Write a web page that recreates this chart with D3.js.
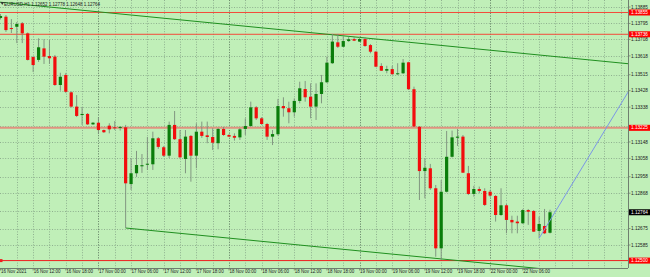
<!DOCTYPE html>
<html><head><meta charset="utf-8">
<script src="https://cdn.jsdelivr.net/npm/d3@7"></script>
<style>html,body{margin:0;padding:0;background:#c0efb8;overflow:hidden}svg{display:block}</style>
</head><body>
<svg id="c" width="650" height="277"></svg>
<script>
// ---- data ----
const symbol = "EURUSD,H1";
const sessions = [["16 Nov",6,23],["17 Nov",0,23],["18 Nov",0,23],["19 Nov",0,23],["22 Nov",0,11]];
const times = [];
sessions.forEach(([d,h0,h1]) => { for (let h=h0; h<=h1; h++) times.push(d+" "+String(h).padStart(2,"0")+":00"); });

const open = [1.13825,1.13832,1.13770,1.13777,1.13796,1.13741,1.13612,1.13596,1.13659,1.13617,
1.13614,1.13459,1.13514,1.13419,1.13341,1.13295,1.13301,1.13244,1.13253,1.13213,
1.13237,1.13228,1.13227,1.13228,1.12918,1.12977,1.13015,1.13024,1.13026,1.13168,
1.13119,1.13073,1.13241,1.13163,1.13055,1.13181,1.13073,1.13204,1.13184,1.13175,
1.13141,1.13219,1.13186,1.13181,1.13173,1.13219,1.13235,1.13337,1.13277,1.13246,
1.13177,1.13190,1.13344,1.13332,1.13310,1.13372,1.13437,1.13395,1.13341,1.13410,
1.13474,1.13578,1.13692,1.13668,1.13699,1.13710,1.13696,1.13710,1.13677,1.13641,
1.13563,1.13537,1.13546,1.13519,1.13523,1.13583,1.13436,1.13231,1.12989,1.13004,
1.12895,1.12567,1.12876,1.13067,1.13171,1.13177,1.12977,1.12864,1.12891,1.12880,
1.12876,1.12853,1.12749,1.12802,1.12722,1.12713,1.12704,1.12776,1.12771,1.12662,
1.12689,1.12652];
const high = [1.13847,1.13841,1.13819,1.13803,1.13803,1.13746,1.13617,1.13714,1.13709,1.13705,
1.13623,1.13526,1.13525,1.13424,1.13404,1.13339,1.13306,1.13257,1.13283,1.13216,
1.13250,1.13262,1.13235,1.13241,1.13059,1.13099,1.13082,1.13175,1.13204,1.13175,
1.13126,1.13259,1.13317,1.13213,1.13213,1.13186,1.13250,1.13259,1.13259,1.13223,
1.13224,1.13230,1.13191,1.13195,1.13224,1.13277,1.13368,1.13344,1.13284,1.13252,
1.13213,1.13383,1.13392,1.13368,1.13386,1.13477,1.13481,1.13468,1.13468,1.13514,
1.13614,1.13738,1.13738,1.13723,1.13723,1.13721,1.13723,1.13721,1.13683,1.13645,
1.13578,1.13564,1.13563,1.13578,1.13601,1.13586,1.13450,1.13235,1.13059,1.13028,
1.12913,1.12940,1.13208,1.13210,1.13219,1.13186,1.13017,1.12908,1.12904,1.12895,
1.12886,1.12858,1.12895,1.12809,1.12745,1.12745,1.12782,1.12782,1.12776,1.12740,
1.12782,1.12778];
const low = [1.13817,1.13749,1.13743,1.13688,1.13688,1.13593,1.13530,1.13585,1.13574,1.13574,
1.13454,1.13428,1.13415,1.13336,1.13284,1.13241,1.13241,1.13241,1.13191,1.13197,
1.13195,1.13213,1.13210,1.12678,1.12886,1.12957,1.12979,1.12995,1.12995,1.13110,
1.13066,1.13060,1.13159,1.13060,1.12977,1.12931,1.13004,1.13170,1.13141,1.13104,
1.13108,1.13181,1.13175,1.13155,1.13159,1.13186,1.13230,1.13268,1.13241,1.13159,
1.13131,1.13181,1.13286,1.13250,1.13286,1.13359,1.13368,1.13277,1.13268,1.13359,
1.13470,1.13574,1.13661,1.13667,1.13694,1.13699,1.13694,1.13667,1.13632,1.13557,
1.13536,1.13523,1.13514,1.13514,1.13519,1.13432,1.13230,1.12831,1.12840,1.12886,
1.12521,1.12503,1.12872,1.13063,1.13126,1.12979,1.12858,1.12849,1.12869,1.12798,
1.12847,1.12713,1.12744,1.12649,1.12649,1.12649,1.12700,1.12695,1.12656,1.12622,
1.12645,1.12648];
const close = [1.13836,1.13759,1.13768,1.13792,1.13741,1.13596,1.13568,1.13665,1.13614,1.13605,
1.13459,1.13504,1.13422,1.13341,1.13290,1.13301,1.13244,1.13253,1.13213,1.13201,
1.13217,1.13227,1.13230,1.12922,1.12977,1.13022,1.13021,1.13029,1.13168,1.13121,
1.13073,1.13241,1.13163,1.13064,1.13177,1.13073,1.13204,1.13181,1.13175,1.13144,
1.13219,1.13186,1.13177,1.13171,1.13217,1.13235,1.13337,1.13277,1.13246,1.13177,
1.13191,1.13344,1.13332,1.13310,1.13372,1.13441,1.13392,1.13341,1.13410,1.13474,
1.13581,1.13696,1.13668,1.13699,1.13709,1.13701,1.13710,1.13672,1.13641,1.13559,
1.13537,1.13546,1.13518,1.13523,1.13581,1.13436,1.13232,1.12989,1.13007,1.12895,
1.12567,1.12876,1.13067,1.13173,1.13177,1.12980,1.12864,1.12891,1.12880,1.12804,
1.12855,1.12749,1.12802,1.12722,1.12709,1.12704,1.12776,1.12767,1.12658,1.12700,
1.12649,1.12764];

const priceTicks = [1.13885,1.13795,1.13708,1.13618,1.13515,1.13428,1.13338,1.13235,1.13148,1.13058,1.12958,1.12868,1.12771,1.12675,1.12585];
const timeTicks = ["16 Nov 06:00","16 Nov 12:00","16 Nov 18:00","17 Nov 00:00","17 Nov 06:00","17 Nov 12:00","17 Nov 18:00","18 Nov 00:00","18 Nov 06:00","18 Nov 12:00","18 Nov 18:00","19 Nov 00:00","19 Nov 06:00","19 Nov 12:00","19 Nov 18:00","22 Nov 00:00","22 Nov 06:00"];
const timeTickText = ["16 Nov 2021","16 Nov 12:00","16 Nov 18:00","17 Nov 00:00","17 Nov 06:00","17 Nov 12:00","17 Nov 18:00","18 Nov 00:00","18 Nov 06:00","18 Nov 12:00","18 Nov 18:00","19 Nov 00:00","19 Nov 06:00","19 Nov 12:00","19 Nov 18:00","22 Nov 00:00","22 Nov 06:00"];
const daySeparators = ["17 Nov 00:00","18 Nov 00:00","19 Nov 00:00","22 Nov 00:00"];
const levelPrices = [1.13855, 1.13736, 1.13225, 1.12500];
// trend lines: bar index anchors and prices
const trendUpper = {i1:0, p1:1.13911, i2:101, p2:1.13617};
const trendLower = {i1:23, p1:1.12678, i2:101, p2:1.12451};
const trendBlue  = {i1:99, p1:1.12622, i2:110, p2:1.13159};

// ---- layout ----
const W = 650, H = 277, plotR = 628, plotB = 268;
const svg = d3.select("#c");
const x = d3.scaleLinear().domain([0, times.length-1]).range([0.5, 550.0]);
const y = d3.scaleLinear().domain([1.12585, 1.13885]).range([245.03, 7]);
const FONT = "'Liberation Sans', Arial, sans-serif";

svg.append("rect").attr("width",W).attr("height",H).attr("fill","#c0efb8");
svg.append("defs").append("clipPath").attr("id","pc").append("rect")
  .attr("x",0).attr("y",0).attr("width",plotR).attr("height",plotB);
const plot = svg.append("g").attr("clip-path","url(#pc)");

// grid
const gridCol = "#8fb08f";
plot.selectAll(".hg").data(priceTicks).join("line")
  .attr("x1",0).attr("x2",plotR)
  .attr("y1",d=>Math.round(y(d))+0.5).attr("y2",d=>Math.round(y(d))+0.5)
  .attr("stroke",gridCol).attr("stroke-width",1).attr("stroke-dasharray","1,1.6");
const vIdx = d3.range(3, 116, 3);
plot.selectAll(".vg").data(vIdx).join("line")
  .attr("x1",d=>Math.round(x(d))+0.5).attr("x2",d=>Math.round(x(d))+0.5)
  .attr("y1",0).attr("y2",plotB)
  .attr("stroke",gridCol).attr("stroke-width",1).attr("stroke-dasharray","1,1.6");
plot.selectAll(".ds").data(daySeparators).join("line")
  .attr("x1",d=>Math.round(x(times.indexOf(d)))+0.5).attr("x2",d=>Math.round(x(times.indexOf(d)))+0.5)
  .attr("y1",0).attr("y2",plotB)
  .attr("stroke","#6d8d6d").attr("stroke-width",1).attr("stroke-dasharray","1,1.6");

// horizontal levels
const levelStyle = [{c:"#f24a3a",w:1},{c:"#f24a3a",w:1},{c:"#e0937f",w:2},{c:"#f01e1e",w:1}];
plot.selectAll(".lv").data(levelPrices).join("line")
  .attr("x1",0).attr("x2",plotR)
  .attr("y1",d=>y(d)).attr("y2",d=>y(d))
  .attr("stroke",(d,i)=>levelStyle[i].c).attr("stroke-width",(d,i)=>levelStyle[i].w);
plot.append("rect").attr("x",0).attr("y",y(levelPrices[3])-1.5).attr("width",2.5).attr("height",3).attr("fill","#f01e1e");

// trend lines (extended to the right edge)
function trend(t, color, w) {
  const slope = (t.p2 - t.p1) / (t.i2 - t.i1);
  const iEnd = x.invert(plotR + 5);
  const iStart = t.i1 === 0 ? x.invert(-5) : t.i1;
  plot.append("line")
    .attr("x1", x(iStart)).attr("y1", y(t.p1 + slope*(iStart - t.i1)))
    .attr("x2", x(iEnd)).attr("y2", y(t.p1 + slope*(iEnd - t.i1)))
    .attr("stroke", color).attr("stroke-width", w);
}
trend(trendUpper, "#1f8f1f", 1);
trend(trendLower, "#1f8f1f", 1);

// candles
const idx = d3.range(times.length);
plot.selectAll(".wk").data(idx).join("line")
  .attr("x1",i=>x(i)).attr("x2",i=>x(i))
  .attr("y1",i=>y(high[i])).attr("y2",i=>y(low[i]))
  .attr("stroke","#7b8c7b").attr("stroke-width",0.9);
plot.selectAll(".bd").data(idx).join("rect")
  .attr("x",i=>x(i)-1.6).attr("width",3.2)
  .attr("y",i=>y(Math.max(open[i],close[i])))
  .attr("height",i=>Math.max(1, Math.abs(y(open[i])-y(close[i]))))
  .attr("fill",i=> close[i] >= open[i] ? "#0a7d0a" : "#f20d0d");

trend(trendBlue, "#7b96e6", 1);

// borders
svg.append("line").attr("x1",plotR+0.5).attr("x2",plotR+0.5).attr("y1",0).attr("y2",plotB)
  .attr("stroke","#6f7f6f").attr("stroke-width",1);
svg.append("line").attr("x1",0).attr("x2",plotR).attr("y1",plotB+0.5).attr("y2",plotB+0.5)
  .attr("stroke","#6f7f6f").attr("stroke-width",1);

// price axis labels
const current = close[close.length-1];
const special = levelPrices.concat([current]);
const visTicks = priceTicks.filter(p => special.every(s => Math.abs(y(s)-y(p)) > 4.5));
const ax = svg.append("g");
ax.selectAll(".pt").data(priceTicks).join("line")
  .attr("x1",plotR).attr("x2",plotR+2.5).attr("y1",d=>y(d)).attr("y2",d=>y(d))
  .attr("stroke","#6f7f6f").attr("stroke-width",0.8);
ax.selectAll(".pl").data(visTicks).join("text")
  .attr("x",631).attr("y",d=>y(d)).attr("dy","0.35em")
  .attr("font-family",FONT).attr("font-size",4.7).attr("fill","#222")
  .text(d=>d.toFixed(5));
ax.selectAll(".lb").data(levelPrices).join("rect")
  .attr("x",629).attr("width",21).attr("y",d=>y(d)-3).attr("height",6).attr("fill","#ff0000");
ax.selectAll(".lt").data(levelPrices).join("text")
  .attr("x",631).attr("y",d=>y(d)).attr("dy","0.35em")
  .attr("font-family",FONT).attr("font-size",4.7).attr("fill","#fff")
  .text(d=>d.toFixed(5));
ax.append("rect").attr("x",629).attr("width",21).attr("y",y(current)-3).attr("height",6).attr("fill","#000");
ax.append("text").attr("x",631).attr("y",y(current)).attr("dy","0.35em")
  .attr("font-family",FONT).attr("font-size",4.7).attr("fill","#fff").text(current.toFixed(5));

// time axis labels
const tg = svg.append("g");
tg.selectAll(".tt").data(timeTicks).join("line")
  .attr("x1",d=>x(times.indexOf(d))).attr("x2",d=>x(times.indexOf(d)))
  .attr("y1",plotB).attr("y2",plotB+2.5).attr("stroke","#6f7f6f").attr("stroke-width",0.8);
tg.selectAll(".tl").data(timeTicks).join("text")
  .attr("x",d=>x(times.indexOf(d))+0.5).attr("y",271.8).attr("dy","0.35em")
  .attr("font-family",FONT).attr("font-size",4.5).attr("fill","#222")
  .text((d,i)=>timeTickText[i]);

// header
svg.append("path").attr("d","M0.5,2 L4,2 L2.25,5 Z").attr("fill","#333");
svg.append("text").attr("x",4).attr("y",4).attr("dy","0.35em")
  .attr("font-family",FONT).attr("font-size",4.5).attr("fill","#222")
  .text(symbol + "  " + [open, high, low, close].map(a=>a[a.length-1].toFixed(5)).join(" "));
</script>
</body></html>
